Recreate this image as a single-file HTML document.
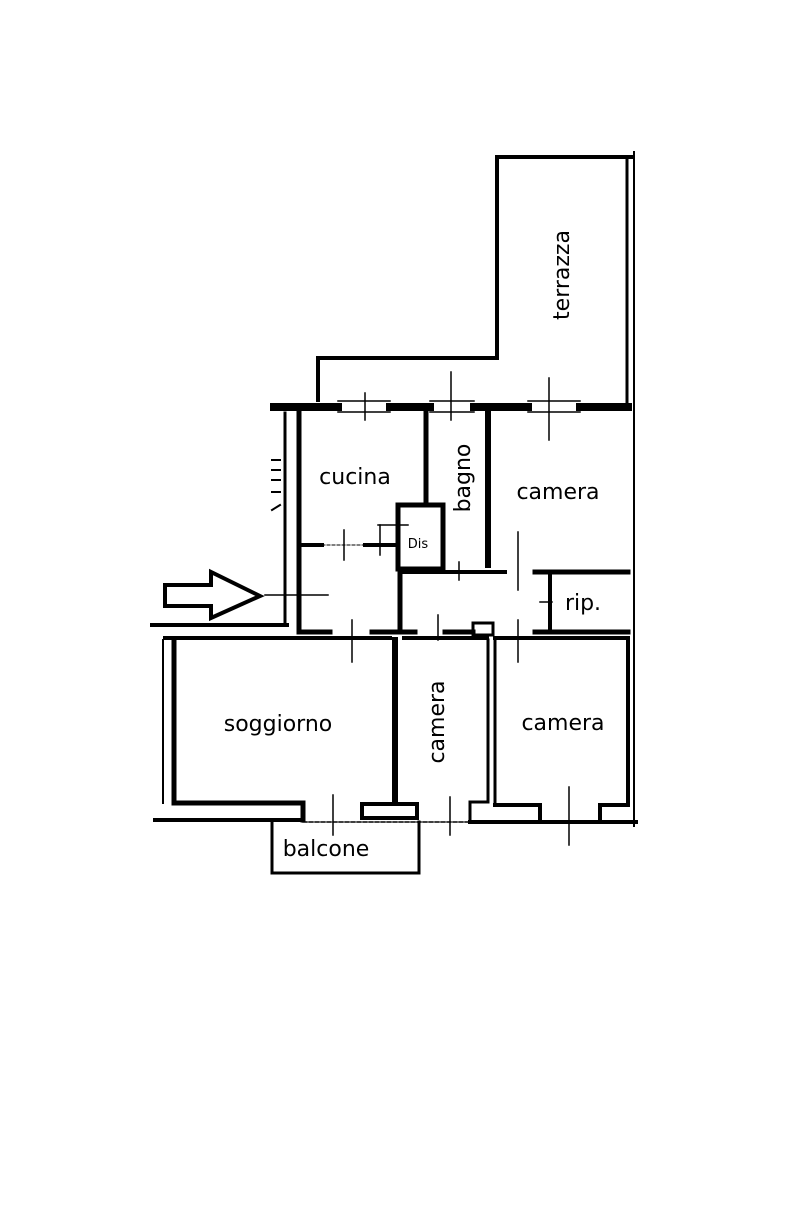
<!DOCTYPE html>
<html><head><meta charset="utf-8"><style>
html,body{margin:0;padding:0;background:#fff;}
svg{display:block}
text{font-family:"DejaVu Sans","Liberation Sans",sans-serif;fill:#000;}
</style></head><body>
<svg width="804" height="1212" viewBox="0 0 804 1212" xmlns="http://www.w3.org/2000/svg">
<g stroke="#000" fill="none" stroke-linecap="square">
<path d="M318,400 L318,358 L497,358 L497,157 L632,157" stroke-width="4"/>
<line x1="627" y1="160" x2="627" y2="405" stroke-width="3"/>
<line x1="634" y1="152" x2="634" y2="826" stroke-width="2"/>
<g stroke-width="8">
<line x1="274" y1="407" x2="338" y2="407"/>
<line x1="390" y1="407" x2="430" y2="407"/>
<line x1="474" y1="407" x2="528" y2="407"/>
<line x1="580" y1="407" x2="628" y2="407"/>
</g>
<g stroke-width="1.5">
<line x1="338" y1="401" x2="390" y2="401"/><line x1="338" y1="412" x2="390" y2="412"/>
<line x1="430" y1="401" x2="474" y2="401"/><line x1="430" y1="412" x2="474" y2="412"/>
<line x1="528" y1="401" x2="580" y2="401"/><line x1="528" y1="412" x2="580" y2="412"/>
</g>
<line x1="299" y1="413" x2="299" y2="632" stroke-width="5"/>
<line x1="285" y1="413" x2="285" y2="625" stroke-width="3"/>
<g stroke-width="2">
<line x1="272" y1="460" x2="280" y2="460"/><line x1="272" y1="470" x2="280" y2="470"/><line x1="272" y1="480" x2="280" y2="480"/><line x1="272" y1="492" x2="280" y2="492"/><line x1="272" y1="510" x2="280" y2="505"/>
</g>
<line x1="426" y1="413" x2="426" y2="503" stroke-width="5"/>
<line x1="488" y1="413" x2="488" y2="565" stroke-width="6"/>
<rect x="398" y="505" width="45" height="64" stroke-width="5"/>
<line x1="300" y1="545" x2="322" y2="545" stroke-width="4"/>
<line x1="365" y1="545" x2="398" y2="545" stroke-width="4"/>
<line x1="322" y1="545" x2="365" y2="545" stroke-width="1" stroke-dasharray="3,2"/>
<line x1="400" y1="570" x2="400" y2="632" stroke-width="5"/>
<line x1="400" y1="572" x2="505" y2="572" stroke-width="4"/>
<line x1="535" y1="572" x2="628" y2="572" stroke-width="5"/>
<line x1="550" y1="572" x2="550" y2="632" stroke-width="4"/>
<g stroke-width="5">
<line x1="300" y1="632" x2="330" y2="632"/>
<line x1="372" y1="632" x2="415" y2="632"/>
<line x1="445" y1="632" x2="473" y2="632"/>
<line x1="535" y1="632" x2="628" y2="632"/>
</g>
<rect x="473" y="623" width="20" height="12" stroke-width="3"/>
<g stroke-width="4">
<line x1="152" y1="625" x2="287" y2="625"/>
<line x1="165" y1="638" x2="390" y2="638"/>
<line x1="404" y1="638" x2="487" y2="638"/>
<line x1="495" y1="638" x2="628" y2="638"/>
</g>
<line x1="174" y1="640" x2="174" y2="803" stroke-width="5"/>
<line x1="163" y1="640" x2="163" y2="803" stroke-width="2"/>
<line x1="395" y1="640" x2="395" y2="803" stroke-width="6"/>
<line x1="488" y1="640" x2="488" y2="802" stroke-width="3"/>
<line x1="495" y1="640" x2="495" y2="802" stroke-width="3"/>
<line x1="628" y1="638" x2="628" y2="805" stroke-width="4"/>
<path d="M174,803 L303,803 L303,820" stroke-width="5"/>
<rect x="362" y="804" width="55" height="14" stroke-width="4"/>
<path d="M488,802 L470,802 L470,820" stroke-width="3"/>
<path d="M495,805 L540,805 L540,818" stroke-width="4"/>
<path d="M600,818 L600,805 L628,805" stroke-width="4"/>
<line x1="155" y1="820" x2="303" y2="820" stroke-width="4"/>
<line x1="470" y1="822" x2="636" y2="822" stroke-width="4"/>
<line x1="303" y1="822" x2="470" y2="822" stroke-width="1.5" stroke-dasharray="4,2"/>
<path d="M272,822 L272,873 L419,873 L419,822" stroke-width="3"/>
<g stroke-width="1.5">
<line x1="365" y1="393" x2="365" y2="420"/><line x1="451" y1="372" x2="451" y2="420"/><line x1="549" y1="378" x2="549" y2="440"/>
<line x1="518" y1="532" x2="518" y2="590"/><line x1="459" y1="562" x2="459" y2="580"/>
<line x1="344" y1="530" x2="344" y2="560"/><line x1="380" y1="525" x2="380" y2="555"/><line x1="378" y1="525" x2="408" y2="525"/>
<line x1="265" y1="595" x2="328" y2="595"/><line x1="540" y1="602" x2="552" y2="602"/>
<line x1="352" y1="620" x2="352" y2="662"/><line x1="518" y1="620" x2="518" y2="662"/><line x1="438" y1="615" x2="438" y2="640"/>
<line x1="333" y1="795" x2="333" y2="835"/><line x1="450" y1="797" x2="450" y2="835"/><line x1="569" y1="787" x2="569" y2="845"/>
</g>
<path d="M165,585 L211,585 L211,572 L260,596 L211,618 L211,606 L165,606 Z" stroke-width="4" stroke-linejoin="miter"/>
</g>
<g font-size="22">
<text x="563" y="275" text-anchor="middle" transform="rotate(-90 563 275)" dominant-baseline="middle">terrazza</text>
<text x="355" y="484" text-anchor="middle">cucina</text>
<text x="464" y="478" text-anchor="middle" transform="rotate(-90 464 478)" dominant-baseline="middle">bagno</text>
<text x="558" y="499" text-anchor="middle">camera</text>
<text x="583" y="610" text-anchor="middle">rip.</text>
<text x="278" y="731" text-anchor="middle">soggiorno</text>
<text x="438" y="722" text-anchor="middle" transform="rotate(-90 438 722)" dominant-baseline="middle">camera</text>
<text x="563" y="730" text-anchor="middle">camera</text>
<text x="326" y="856" text-anchor="middle">balcone</text>
<text x="418" y="548" text-anchor="middle" font-size="13">Dis</text>
</g>
</svg>
</body></html>
